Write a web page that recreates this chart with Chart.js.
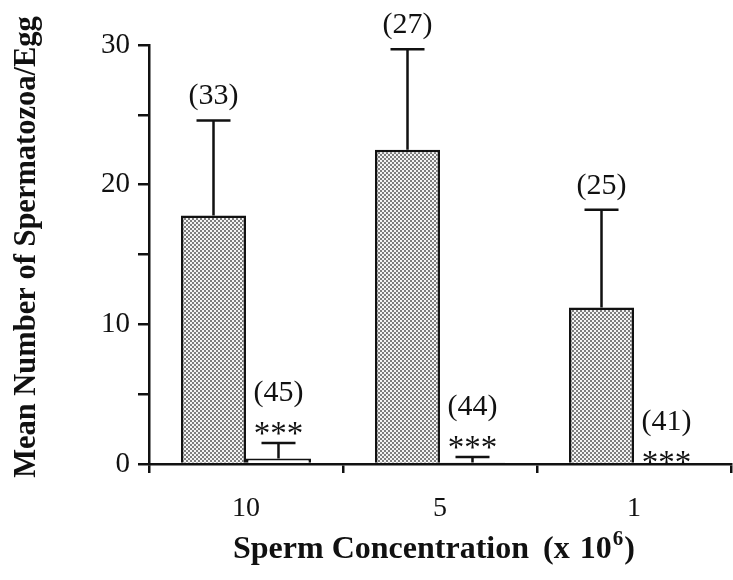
<!DOCTYPE html>
<html>
<head>
<meta charset="utf-8">
<script src="https://cdn.jsdelivr.net/npm/chart.js@4.4.1/dist/chart.umd.min.js"></script>
<style>
  html, body { margin: 0; padding: 0; background: #fff; }
  #wrap { width: 733px; height: 580px; position: relative; }
</style>
</head>
<body>
<div id="wrap"><canvas id="chart"></canvas></div>
<script>
const categories = ['10', '5', '1'];
const controlMeans = [17.8, 22.5, 11.2];
const controlSem = [6.8, 7.2, 7.0];
const treatedMeans = [0.4, 0.1, 0];
const treatedSem = [1.1, 0.4, 0];
const controlN = ['(33)', '(27)', '(25)'];
const treatedN = ['(45)', '(44)', '(41)'];
const treatedSig = ['***', '***', '***'];
const yTicks = [0, 10, 20, 30];

const INK = '#111';
const SERIF = "'Liberation Serif', 'Times New Roman', serif";

// dotted grey fill like the printed screen
function stipple() {
    const c = document.createElement('canvas');
    c.width = 4;
    c.height = 4;
    const g = c.getContext('2d');
    g.fillStyle = '#7e7e7e';
    g.fillRect(0, 0, 4, 4);
    g.fillStyle = '#f4f4f4';
    g.fillRect(0, 0, 2, 2);
    g.fillRect(2, 2, 2, 2);
    return g.createPattern(c, 'repeat');
}

const annotations = {
    id: 'annotations',
    afterDatasetsDraw(chart) {
        const ctx = chart.ctx;
        const y = chart.scales.y;
        const groups = [
            { meta: chart.getDatasetMeta(0), means: controlMeans, sem: controlSem, n: controlN, sig: null, nOff: 24 },
            { meta: chart.getDatasetMeta(1), means: treatedMeans, sem: treatedSem, n: treatedN, sig: treatedSig, nOff: 50 },
        ];
        ctx.save();
        ctx.strokeStyle = INK;
        ctx.fillStyle = INK;
        ctx.lineWidth = 2.5;
        groups.forEach(g => {
            g.meta.data.forEach((bar, i) => {
                const top = y.getPixelForValue(g.means[i] + g.sem[i]);
                const base = y.getPixelForValue(g.means[i]);
                const hasErr = g.sem[i] > 0;
                if (hasErr) {
                    ctx.beginPath();
                    ctx.moveTo(bar.x, base);
                    ctx.lineTo(bar.x, top);
                    ctx.moveTo(bar.x - 17, top);
                    ctx.lineTo(bar.x + 17, top);
                    ctx.stroke();
                }
                ctx.textAlign = 'center';
                ctx.textBaseline = 'middle';
                ctx.font = '30px ' + SERIF;
                ctx.fillText(g.n[i], bar.x, top - (hasErr ? g.nOff : 42));
                if (g.sig) {
                    ctx.textBaseline = 'alphabetic';
                    ctx.font = '33px ' + SERIF;
                    ctx.fillText(g.sig[i], bar.x, top + (hasErr ? 1 : 9));
                }
            });
        });

        // y axis title
        ctx.save();
        ctx.translate(27, 247);
        ctx.rotate(-Math.PI / 2);
        ctx.textAlign = 'center';
        ctx.textBaseline = 'middle';
        ctx.font = 'bold 30.5px ' + SERIF;
        ctx.fillText('Mean Number of Spermatozoa/Egg', 0, 0);
        ctx.restore();

        // x axis title with superscript exponent
        const base = 558;
        ctx.textAlign = 'left';
        ctx.textBaseline = 'alphabetic';
        ctx.font = 'bold 32px ' + SERIF;
        ctx.fillText('Sperm Concentration', 233, base);
        let x = 543;
        ctx.fillText('(x', x, base);
        x += ctx.measureText('(x').width + 10;
        ctx.fillText('10', x, base);
        x += ctx.measureText('10').width + 1;
        ctx.font = 'bold 21px ' + SERIF;
        ctx.fillText('6', x, base - 13);
        x += ctx.measureText('6').width + 1;
        ctx.font = 'bold 32px ' + SERIF;
        ctx.fillText(')', x, base);
        ctx.restore();
    }
};

new Chart(document.getElementById('chart'), {
    type: 'bar',
    data: {
        labels: categories,
        datasets: [
            {
                data: controlMeans,
                backgroundColor: stipple(),
                borderColor: INK,
                borderWidth: 2.5,
                categoryPercentage: 0.67,
                barPercentage: 1.0,
            },
            {
                data: treatedMeans,
                backgroundColor: '#fff',
                borderColor: INK,
                borderWidth: 2.5,
                categoryPercentage: 0.67,
                barPercentage: 1.0,
            },
        ],
    },
    options: {
        responsive: true,
        maintainAspectRatio: false,
        animation: false,
        layout: { padding: { top: 45, right: 2, left: 0, bottom: 0 } },
        plugins: {
            legend: { display: false },
            tooltip: { enabled: false },
        },
        scales: {
            x: {
                offset: true,
                grid: { display: true, drawOnChartArea: false, offset: true, tickLength: 9, lineWidth: 2.5, color: INK },
                border: { display: true, color: INK, width: 2.5 },
                ticks: { color: INK, font: { family: SERIF, size: 28 }, padding: 19 },
                afterFit: s => { s.height = 116; },
            },
            y: {
                min: 0,
                max: 30,
                afterBuildTicks: s => {
                    s.ticks = [0, 5, 10, 15, 20, 25, 30].map(v => ({ value: v }));
                },
                ticks: {
                    color: INK,
                    font: { family: SERIF, size: 29 },
                    padding: 8,
                    callback: v => (yTicks.includes(v) ? String(v) : ''),
                },
                grid: { display: true, drawOnChartArea: false, tickLength: 11, lineWidth: 2.5, color: INK },
                border: { display: true, color: INK, width: 2.5 },
                afterFit: s => { s.width = 149; },
            },
        },
    },
    plugins: [annotations],
});
</script>
</body>
</html>
